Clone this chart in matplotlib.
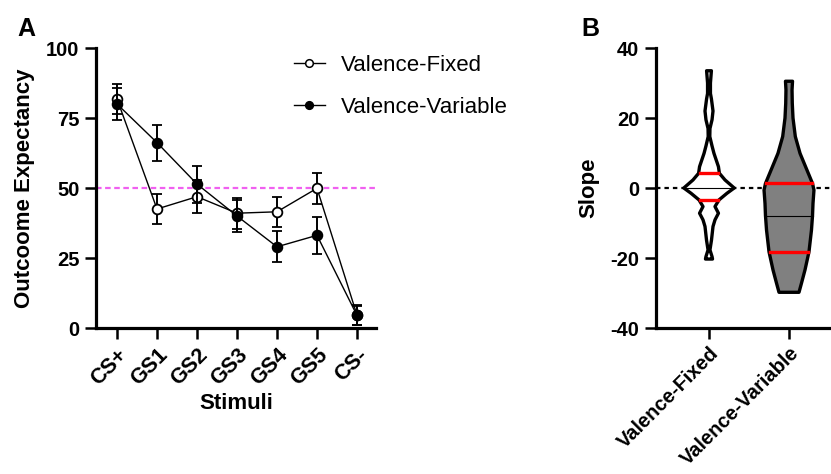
import numpy as np
import matplotlib
matplotlib.use("Agg")
import matplotlib.pyplot as plt
from matplotlib.lines import Line2D

plt.rcParams['font.family'] = ['Liberation Sans', 'DejaVu Sans']
plt.rcParams['axes.unicode_minus'] = False

# ---------------- Panel A data ----------------
stimuli = ["CS+", "GS1", "GS2", "GS3", "GS4", "GS5", "CS-"]
fixed_mean = [81.8, 42.5, 46.9, 41.0, 41.5, 49.9, 4.6]
fixed_err = [5.3, 5.2, 5.9, 5.5, 5.4, 5.5, 3.5]
variable_mean = [80.0, 66.2, 51.4, 40.0, 29.0, 33.1, 4.5]
variable_err = [5.8, 6.4, 6.6, 5.6, 5.6, 6.7, 3.5]
chance_level = 50

# ---------------- Panel B data ----------------
groups = ["Valence-Fixed", "Valence-Variable"]
# violin outline: slope values and half-widths (category units)
fixed_y = [33.5, 30, 27, 25.5, 22, 19.5, 17, 14.7, 12, 9.9, 6.1, 4.2, 2.3, 0,
           -1.5, -3.4, -5.3, -7.2, -9.1, -11, -14.9, -17.7, -19.6, -20.3]
fixed_hw = [0.030, 0.018, 0.018, 0.030, 0.050, 0.038, 0.012, 0.010, 0.038, 0.062,
            0.118, 0.130, 0.200, 0.315, 0.225, 0.125, 0.075, 0.118, 0.075, 0.050,
            0.031, 0.012, 0.038, 0.044]
variable_y = [30.5, 28, 24.2, 20, 14.7, 9.9, 5.1, 1.3, -0.6, -4.4, -7.9, -12,
              -18.2, -23.4, -27.2, -29.8]
variable_hw = [0.044, 0.038, 0.041, 0.050, 0.079, 0.138, 0.225, 0.294, 0.312,
               0.300, 0.294, 0.281, 0.250, 0.200, 0.156, 0.125]
fixed_quartiles = [-3.4, 0.0, 4.2]
variable_quartiles = [-18.2, -7.9, 1.3]

W, H = 831, 474
fig = plt.figure(figsize=(W / 100, H / 100), dpi=100)

def px_axes(l, t, r, b):
    return fig.add_axes([l / W, 1 - b / H, (r - l) / W, (b - t) / H])

spine_w = 2.3
ytick_fs = 14.5
xtick_fs = 15.5
label_fs = 16

# ---------------- Panel A ----------------
axA = px_axes(96, 48, 376, 328)
x = np.arange(len(stimuli))
axA.axhline(chance_level, color='#f060f0', lw=1.6, ls=(0, (2.5, 1.6)), zorder=1)
axA.errorbar(x, fixed_mean, yerr=fixed_err, color='black', lw=1.0, elinewidth=1.4,
             capsize=3.5, capthick=1.4, marker='o', ms=7, mfc='white', mec='black',
             mew=1.3, zorder=3)
axA.errorbar(x, variable_mean, yerr=variable_err, color='black', lw=1.0, elinewidth=1.4,
             capsize=3.5, capthick=1.4, marker='o', ms=7, mfc='black', mec='black',
             mew=1.3, zorder=4)
axA.set_xlim(-0.525, 6.475)
axA.set_ylim(0, 100)
axA.set_yticks([0, 25, 50, 75, 100])
axA.set_xticks(x)
axA.set_xticklabels(stimuli, rotation=45, ha='right', rotation_mode='anchor')
axA.set_ylabel("Outcoome Expectancy", fontsize=label_fs, fontweight='bold', labelpad=8)
axA.set_xlabel("Stimuli", fontsize=label_fs, fontweight='bold', labelpad=2)
handles = [Line2D([], [], color='black', lw=1.0, marker='o', ms=5.5, mfc='white',
                  mec='black', mew=1.1),
           Line2D([], [], color='black', lw=1.0, marker='o', ms=5.5, mfc='black',
                  mec='black', mew=1.1)]
leg = axA.legend(handles, ["Valence-Fixed", "Valence-Variable"], loc='upper left',
                 bbox_to_anchor=(0.65, 1.03), frameon=False, fontsize=16,
                 handlelength=1.4, handletextpad=0.75, labelspacing=0.95,
                 borderaxespad=0.3)

# ---------------- Panel B ----------------
axB = px_axes(656, 48, 831, 328)
axB.axhline(0, color='black', lw=1.6, ls=(0, (2, 1.8)), zorder=1)
profiles = [(fixed_y, fixed_hw, 'white', fixed_quartiles),
            (variable_y, variable_hw, '#808080', variable_quartiles)]
for i, (ys, hws, fc, qs) in enumerate(profiles):
    ys = np.array(ys, float)
    hws = np.array(hws, float)
    px = np.concatenate([i + hws, (i - hws)[::-1]])
    py = np.concatenate([ys, ys[::-1]])
    axB.fill(px, py, facecolor=fc, edgecolor='black', lw=2.4, joinstyle='round', zorder=2)
    order = np.argsort(ys)
    for k, q in enumerate(qs):
        w = np.interp(q, ys[order], hws[order])
        if k == 1:
            axB.plot([i - w, i + w], [q, q], color='black', lw=0.8, zorder=3)
        else:
            axB.plot([i - w + 0.012, i + w - 0.012], [q, q], color='#ff0000', lw=2.4, zorder=3)
axB.set_xlim(-0.6625, 1.525)
axB.set_ylim(-40, 40)
axB.set_yticks([-40, -20, 0, 20, 40])
axB.set_xticks([0, 1])
axB.set_xticklabels(groups, rotation=45, ha='right', rotation_mode='anchor')
axB.set_ylabel("Slope", fontsize=label_fs, fontweight='bold', labelpad=8)

for ax in (axA, axB):
    for s in ('top', 'right'):
        ax.spines[s].set_visible(False)
    for s in ('left', 'bottom'):
        ax.spines[s].set_linewidth(spine_w)
    ax.tick_params(width=1.8, length=8, pad=4)
    ax.tick_params(axis='y', labelsize=ytick_fs)
    ax.tick_params(axis='x', labelsize=xtick_fs)
    for lab in ax.get_xticklabels() + ax.get_yticklabels():
        lab.set_fontweight('bold')
axB.tick_params(axis='x', labelsize=14.5, pad=3)

fig.text(17 / W, 1 - 36 / H, "A", fontsize=18, fontweight='bold')
fig.text(581 / W, 1 - 36 / H, "B", fontsize=18, fontweight='bold')

fig.savefig("out.png", dpi=100)
